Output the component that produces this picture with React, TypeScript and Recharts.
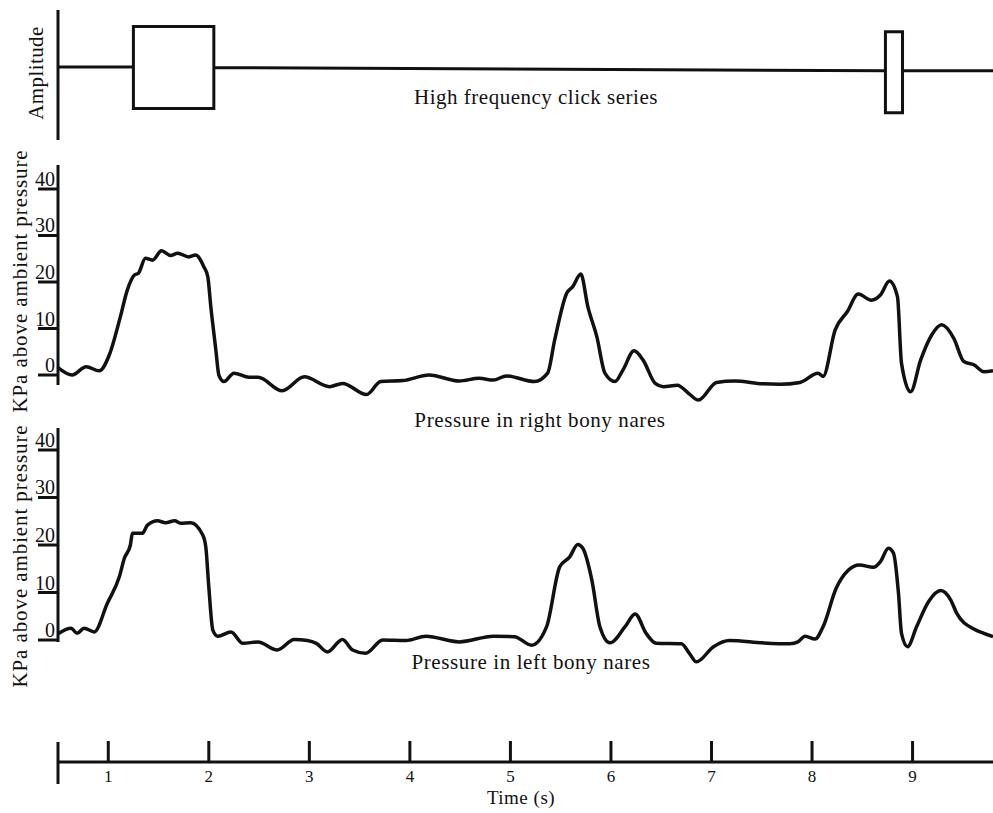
import { LineChart, Line, XAxis, YAxis, ReferenceLine } from "recharts"

const FONT = "'Liberation Serif', 'Times New Roman', serif"
const INK = "#111"

// time axis (s)
const T_DOMAIN: [number, number] = [0.5, 9.8]
const TIME_TICKS = [0.5, 1, 2, 3, 4, 5, 6, 7, 8, 9]
const KPA_TICKS = [0, 10, 20, 30, 40]

// click series envelope, traced as outlines (null = pen lifted)
const clickTime = [0.5, 1.25, 1.25, 2.05, 2.05, 1.25, 1.25, 1.6, 2.05, 8.73, 8.73, 8.9, 8.9, 8.73, 8.73, 8.8, 8.9, 9.8]
const clickAmp = [0, 0, 1.0, 1.0, -1.02, -1.02, 0, null, -0.01, -0.09, 0.87, 0.87, -1.13, -1.13, -0.09, null, -0.09, -0.09]

// pressure in right bony nares
const rightTime = [
  0.5, 0.64, 0.78, 0.91, 1.01, 1.12, 1.19, 1.26, 1.3, 1.37, 1.44, 1.53, 1.62, 1.69, 1.8, 1.87, 1.95, 1.99, 2.02, 2.07,
  2.1, 2.15, 2.25, 2.4, 2.49, 2.73, 2.95, 3.2, 3.33, 3.57, 3.71, 3.93, 4.19, 4.49, 4.69, 4.83, 4.96, 5.24, 5.37, 5.44,
  5.56, 5.62, 5.7, 5.77, 5.86, 5.94, 6.04, 6.12, 6.23, 6.32, 6.44, 6.52, 6.66, 6.78, 6.87, 7.05, 7.23, 7.51, 7.68, 7.88,
  8.06, 8.11, 8.23, 8.35, 8.46, 8.59, 8.68, 8.77, 8.85, 8.89, 8.98, 9.08, 9.19, 9.29, 9.41, 9.51, 9.61, 9.71, 9.8,
]
const rightKPa = [
  1.6, 0, 1.8, 0.9, 4.3, 12.5, 18.3, 21.5, 21.9, 25.1, 24.7, 26.7, 25.7, 26.2, 25.4, 25.8, 23.3, 21.1, 14.7, 5.4,
  0, -1.4, 0.4, -0.5, -0.5, -3.4, -0.4, -2.5, -1.8, -4.2, -1.4, -1.2, 0, -1.3, -0.7, -1.1, -0.2, -1.4, 0.4, 7.5,
  17.6, 19.0, 21.7, 14.7, 8.2, 0.4, -1.4, 1.1, 5.2, 3.2, -1.8, -2.5, -2.2, -4.1, -5.4, -1.6, -1.3, -1.9, -2.0, -1.6,
  0.4, -0.3, 9.7, 13.6, 17.4, 16.1, 17.2, 20.2, 16.8, 2.5, -3.6, 3.2, 8.6, 10.8, 7.9, 2.9, 2.2, 0.7, 0.9,
]

// pressure in left bony nares
const leftTime = [
  0.5, 0.63, 0.69, 0.76, 0.86, 0.99, 1.11, 1.16, 1.22, 1.24, 1.34, 1.39, 1.49, 1.57, 1.66, 1.72, 1.82, 1.94, 1.97, 2.0,
  2.04, 2.09, 2.22, 2.34, 2.49, 2.68, 2.85, 2.98, 3.07, 3.18, 3.33, 3.43, 3.56, 3.73, 3.96, 4.16, 4.49, 4.83, 5.04, 5.21,
  5.36, 5.49, 5.59, 5.67, 5.72, 5.81, 5.89, 5.99, 6.14, 6.24, 6.35, 6.45, 6.7, 6.78, 6.85, 7.02, 7.18, 7.51, 7.78, 7.86,
  7.93, 8.03, 8.11, 8.24, 8.36, 8.47, 8.61, 8.68, 8.76, 8.81, 8.86, 8.89, 8.95, 9.04, 9.16, 9.28, 9.38, 9.44, 9.61, 9.71, 9.8,
]
const leftKPa = [
  1.3, 2.5, 1.4, 2.5, 1.7, 7.7, 13.3, 17.2, 20.0, 22.5, 22.5, 24.2, 25.1, 24.7, 25.1, 24.6, 24.7, 22.1, 19.6, 11.2,
  2.1, 0.8, 1.7, -0.7, -0.4, -2.1, 0.1, -0.1, -0.7, -2.5, 0.1, -2.1, -2.8, 0, -0.1, 0.8, -0.4, 0.8, 0.7, -1.1,
  2.8, 15.4, 17.5, 20.1, 19.3, 12.6, 2.8, -0.6, 2.8, 5.5, 1.4, -0.7, -0.8, -2.8, -4.6, -1.4, -0.1, -0.6, -0.8, -0.4,
  0.8, 0.2, 2.8, 10.9, 14.7, 15.8, 15.3, 16.5, 19.3, 18.3, 9.8, 1.4, -1.4, 2.8, 8.1, 10.4, 8.4, 5.6, 2.3, 1.4, 0.7,
]

const zip = (ts: number[], vs: (number | null)[]) => ts.map((t, i) => ({ t, v: vs[i] }))

const W = 993

function KpaTick({ x, y, payload }: any) {
  return (
    <g>
      <line x1={x - 20} x2={x} y1={y} y2={y} stroke={INK} strokeWidth={3} />
      <text x={x - 3} y={y - 3} textAnchor="end" fontSize={20} fontFamily={FONT} fill={INK}>
        {payload.value}
      </text>
    </g>
  )
}

function TimeTick({ x, y, payload }: any) {
  if (payload.value === T_DOMAIN[0]) {
    return <line x1={x} x2={x} y1={y - 20} y2={y + 22} stroke={INK} strokeWidth={3} />
  }
  return (
    <g>
      <line x1={x} x2={x} y1={y - 21} y2={y} stroke={INK} strokeWidth={3} />
      <text x={x} y={y + 20} textAnchor="middle" fontSize={17} fontFamily={FONT} fill={INK}>
        {payload.value}
      </text>
    </g>
  )
}

function PressurePanel({ data, top, height, domain, axisFrom }: any) {
  return (
    <div style={{ position: "absolute", left: 0, top }}>
      <LineChart width={W} height={height} data={data} margin={{ top: 0, right: 0, bottom: 0, left: 0 }}>
        <XAxis dataKey="t" type="number" domain={T_DOMAIN} allowDataOverflow hide />
        <YAxis
          type="number"
          domain={domain}
          allowDataOverflow
          width={58}
          ticks={KPA_TICKS}
          interval={0}
          tick={<KpaTick />}
          tickLine={false}
          axisLine={false}
          tickSize={0}
          tickMargin={0}
        />
        <ReferenceLine
          segment={[{ x: T_DOMAIN[0], y: axisFrom }, { x: T_DOMAIN[0], y: domain[1] }]}
          stroke={INK}
          strokeWidth={3}
        />
        <Line dataKey="v" type="monotone" stroke={INK} strokeWidth={3.5} dot={false} isAnimationActive={false} />
      </LineChart>
    </div>
  )
}

export default function App() {
  const txt = { fontFamily: FONT, fill: INK }
  return (
    <div style={{ position: "absolute", left: 0, top: 0, width: W, height: 813, background: "#fff" }}>
      <div style={{ position: "absolute", left: 0, top: 10 }}>
        <LineChart width={W} height={130} data={zip(clickTime, clickAmp)} margin={{ top: 0, right: 0, bottom: 0, left: 0 }}>
          <XAxis dataKey="t" type="number" domain={T_DOMAIN} allowDataOverflow hide />
          <YAxis type="number" domain={[-1.8, 1.41]} allowDataOverflow width={58} tick={false} tickLine={false} axisLine={{ stroke: INK, strokeWidth: 3 }} />
          <Line dataKey="v" type="linear" stroke={INK} strokeWidth={3} dot={false} connectNulls={false} isAnimationActive={false} />
        </LineChart>
      </div>

      <PressurePanel data={zip(rightTime, rightKPa)} top={165} height={240} domain={[-6.45, 45.16]} axisFrom={-2.15} />
      <PressurePanel data={zip(leftTime, leftKPa)} top={428} height={237} domain={[-5.26, 44.63]} axisFrom={-0.42} />

      <div style={{ position: "absolute", left: 0, top: 712 }}>
        <LineChart width={W} height={100} data={TIME_TICKS.map((t) => ({ t }))} margin={{ top: 0, right: 0, bottom: 0, left: 58 }}>
          <XAxis
            dataKey="t"
            type="number"
            domain={T_DOMAIN}
            allowDataOverflow
            ticks={TIME_TICKS}
            interval={0}
            height={50}
            tick={<TimeTick />}
            tickLine={false}
            tickSize={0}
            tickMargin={0}
            axisLine={{ stroke: INK, strokeWidth: 3 }}
          />
        </LineChart>
      </div>

      <svg width={W} height={813} style={{ position: "absolute", left: 0, top: 0, pointerEvents: "none" }}>
        <text transform="translate(43,73) rotate(-90)" textAnchor="middle" fontSize={21} letterSpacing={0.4} {...txt}>
          Amplitude
        </text>
        <text transform="translate(27,281) rotate(-90)" textAnchor="middle" fontSize={21} letterSpacing={0.9} {...txt}>
          KPa above ambient pressure
        </text>
        <text transform="translate(27,556) rotate(-90)" textAnchor="middle" fontSize={21} letterSpacing={0.9} {...txt}>
          KPa above ambient pressure
        </text>
        <text x={536} y={104} textAnchor="middle" fontSize={21} letterSpacing={0.5} {...txt}>
          High frequency click series
        </text>
        <text x={540} y={427} textAnchor="middle" fontSize={21} letterSpacing={0.6} {...txt}>
          Pressure in right bony nares
        </text>
        <text x={531} y={669} textAnchor="middle" fontSize={21} letterSpacing={0.6} {...txt}>
          Pressure in left bony nares
        </text>
        <text x={521} y={804} textAnchor="middle" fontSize={19} letterSpacing={0.5} {...txt}>
          Time (s)
        </text>
      </svg>
    </div>
  )
}
